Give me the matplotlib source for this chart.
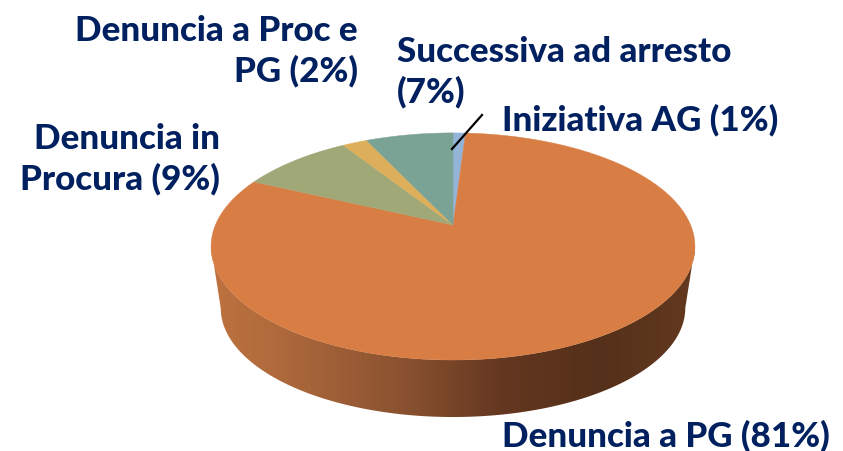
import numpy as np
import matplotlib
matplotlib.use('Agg')
import matplotlib.pyplot as plt
from matplotlib.colors import LinearSegmentedColormap
from matplotlib.patches import Polygon

labels = ['Iniziativa AG (1%)', 'Denuncia a PG (81%)', 'Denuncia in\nProcura (9%)',
          'Denuncia a Proc e\nPG (2%)', 'Successiva ad arresto\n(7%)']
values = [1, 81, 9, 2, 7]
colors = ['#94b4d7', '#d87d44', '#a0a878', '#deaf5a', '#7aa396']

# where the labels go (pixels): x, y of last baseline, alignment
label_x = [502, 502, 220, 358, 397]
label_y = [130, 446, 189, 81, 102]
label_ha = ['left', 'left', 'right', 'right', 'left']

cx, cy = 453, 226       # apex of the pie
k = 0.189               # perspective
bx, by = 237.6, 109.5
depth = 62.4
bottom_scale = 0.96


def project(theta):
    # clockwise from top, a circle seen in perspective
    d = 1 + k * np.cos(theta)
    return bx * np.sin(theta) / d, -by * np.cos(theta) / d


fig = plt.figure(figsize=(8.43, 4.52), dpi=100)
ax = fig.add_axes([0, 0, 1, 1])
ax.set_xlim(0, 843)
ax.set_ylim(452, 0)
ax.axis('off')

# side wall, between the widest points of the ellipse
widest = np.arccos(-k)
t = np.linspace(widest, 2 * np.pi - widest, 300)
x, y = project(t)
wall = np.column_stack([np.r_[cx + x, cx + bottom_scale * x[::-1]],
                        np.r_[cy + y, cy + depth + bottom_scale * y[::-1]]])
wall_patch = Polygon(wall, closed=True, fc='none', ec='none')
ax.add_patch(wall_patch)
wall_cmap = LinearSegmentedColormap.from_list(
    'wall', ['#c07440', '#a8653a', '#8a5230', '#643720', '#55301a', '#643a20'])
im = ax.imshow(np.linspace(0, 1, 256).reshape(1, -1), cmap=wall_cmap, aspect='auto',
               extent=[205, 700, 430, 200], zorder=1)
im.set_clip_path(wall_patch)
ax.set_xlim(0, 843)
ax.set_ylim(452, 0)

# top face
edges = 2 * np.pi * np.cumsum([0] + values) / sum(values)
for i in range(len(values)):
    t = np.linspace(edges[i], edges[i + 1], 200)
    x, y = project(t)
    ax.add_patch(Polygon(np.column_stack([np.r_[cx, cx + x], np.r_[cy, cy + y]]),
                         closed=True, fc=colors[i], ec=colors[i], lw=0.3, zorder=2))

# leader line of the smallest slice
ax.plot([482, 452], [116, 150], color='black', lw=1.6, zorder=3)

for i in range(len(labels)):
    ax.text(label_x[i], label_y[i], labels[i], ha=label_ha[i], va='baseline',
            multialignment=label_ha[i], family='Lato', weight='black',
            fontsize=25.2, color='#002060', linespacing=1.27, zorder=4)

fig.savefig('out.png', dpi=100)
